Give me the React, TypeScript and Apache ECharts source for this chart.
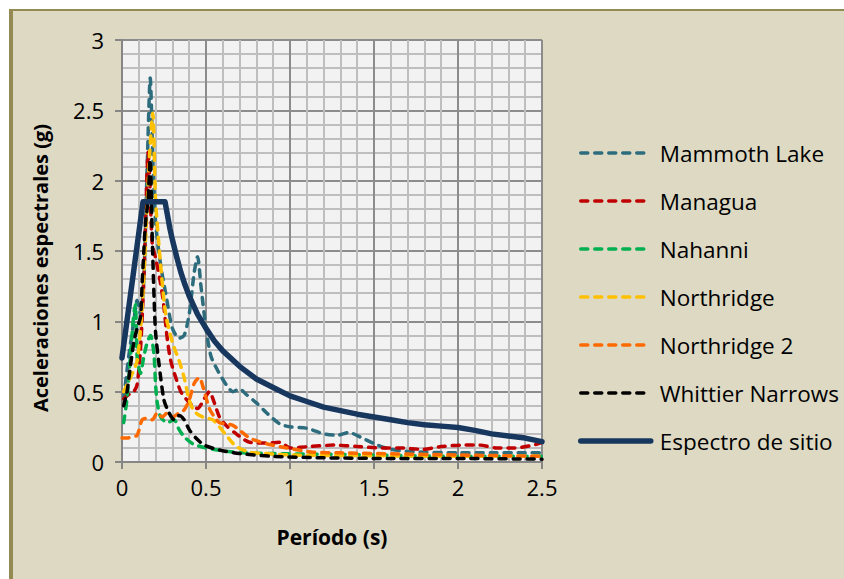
import React, { useEffect, useRef } from "react";
import * as echarts from "echarts";

// Period (s) / spectral acceleration (g)
const mammothT = [0.01, 0.04, 0.07, 0.09, 0.11, 0.13, 0.15, 0.168, 0.185, 0.2, 0.23, 0.26, 0.3, 0.34, 0.37, 0.4, 0.43, 0.45, 0.47, 0.5, 0.53, 0.57, 0.62, 0.66, 0.7, 0.74, 0.8, 0.86, 0.94, 1.0, 1.1, 1.2, 1.28, 1.35, 1.43, 1.52, 1.6, 1.7, 1.8, 2.0, 2.2, 2.4, 2.5];
const mammothA = [0.45, 0.75, 1.0, 1.15, 1.05, 1.3, 2.1, 2.73, 2.1, 1.7, 1.4, 1.2, 0.95, 0.88, 0.9, 1.05, 1.35, 1.46, 1.25, 0.95, 0.75, 0.65, 0.55, 0.5, 0.52, 0.48, 0.42, 0.35, 0.27, 0.25, 0.24, 0.2, 0.19, 0.21, 0.17, 0.12, 0.09, 0.075, 0.07, 0.065, 0.065, 0.065, 0.065];

const managuaT = [0.01, 0.04, 0.07, 0.09, 0.11, 0.13, 0.145, 0.155, 0.165, 0.18, 0.2, 0.225, 0.245, 0.27, 0.29, 0.32, 0.35, 0.38, 0.42, 0.45, 0.49, 0.52, 0.55, 0.58, 0.62, 0.68, 0.76, 0.86, 0.94, 1.0, 1.12, 1.26, 1.4, 1.54, 1.65, 1.79, 1.9, 2.03, 2.13, 2.23, 2.33, 2.45, 2.5];
const managuaA = [0.45, 0.48, 0.5, 0.55, 0.8, 1.3, 1.9, 2.2, 2.0, 1.55, 1.45, 1.3, 1.15, 0.87, 0.72, 0.6, 0.5, 0.45, 0.4, 0.38, 0.45, 0.5, 0.42, 0.32, 0.26, 0.2, 0.14, 0.135, 0.14, 0.1, 0.11, 0.12, 0.11, 0.1, 0.1, 0.09, 0.11, 0.12, 0.12, 0.1, 0.1, 0.12, 0.14];

const nahanniT = [0.01, 0.03, 0.05, 0.07, 0.08, 0.09, 0.11, 0.13, 0.15, 0.17, 0.19, 0.2, 0.21, 0.23, 0.27, 0.31, 0.34, 0.37, 0.42, 0.5, 0.6, 0.72, 0.9, 1.2, 1.5, 2.0, 2.5];
const nahanniA = [0.28, 0.45, 0.75, 1.05, 1.12, 0.75, 0.63, 0.75, 0.85, 0.9, 0.77, 0.55, 0.42, 0.32, 0.28, 0.3, 0.23, 0.18, 0.13, 0.1, 0.08, 0.065, 0.06, 0.055, 0.05, 0.04, 0.04];

const northridgeT = [0.01, 0.05, 0.09, 0.12, 0.145, 0.165, 0.183, 0.2, 0.23, 0.26, 0.3, 0.34, 0.37, 0.4, 0.43, 0.48, 0.54, 0.58, 0.62, 0.68, 0.76, 0.86, 1.0, 1.5, 2.0, 2.5];
const northridgeA = [0.5, 0.6, 0.72, 1.1, 1.7, 2.2, 2.48, 1.86, 1.4, 1.05, 0.85, 0.72, 0.6, 0.44, 0.36, 0.32, 0.3, 0.25, 0.19, 0.11, 0.07, 0.06, 0.05, 0.045, 0.04, 0.04];

const northridge2T = [0.0, 0.03, 0.06, 0.09, 0.12, 0.15, 0.18, 0.21, 0.24, 0.27, 0.3, 0.34, 0.37, 0.4, 0.43, 0.46, 0.49, 0.52, 0.55, 0.58, 0.66, 0.76, 0.86, 0.98, 1.14, 1.3, 2.0, 2.5];
const northridge2A = [0.17, 0.17, 0.18, 0.19, 0.3, 0.31, 0.3, 0.35, 0.32, 0.35, 0.32, 0.35, 0.37, 0.44, 0.56, 0.6, 0.5, 0.38, 0.32, 0.28, 0.26, 0.17, 0.13, 0.1, 0.07, 0.065, 0.05, 0.04];

const whittierT = [0.01, 0.03, 0.05, 0.07, 0.09, 0.11, 0.12, 0.13, 0.14, 0.155, 0.167, 0.18, 0.19, 0.2, 0.22, 0.25, 0.28, 0.31, 0.34, 0.37, 0.4, 0.44, 0.49, 0.58, 0.7, 0.9, 1.2, 1.6, 2.0, 2.5];
const whittierA = [0.4, 0.5, 0.68, 0.85, 0.95, 1.03, 1.27, 1.5, 1.7, 1.86, 2.15, 1.6, 1.2, 0.92, 0.7, 0.44, 0.35, 0.3, 0.33, 0.3, 0.23, 0.17, 0.12, 0.085, 0.06, 0.04, 0.03, 0.025, 0.025, 0.02];

const siteT = [0.0, 0.125, 0.256, 0.27, 0.285, 0.3, 0.325, 0.35, 0.375, 0.4, 0.45, 0.5, 0.55, 0.6, 0.7, 0.8, 0.9, 1.0, 1.1, 1.2, 1.3, 1.4, 1.5, 1.6, 1.7, 1.8, 1.9, 2.0, 2.1, 2.2, 2.3, 2.4, 2.5];
const siteA = [0.74, 1.85, 1.85, 1.76, 1.66, 1.58, 1.46, 1.35, 1.26, 1.18, 1.05, 0.95, 0.86, 0.79, 0.68, 0.59, 0.53, 0.47, 0.43, 0.39, 0.365, 0.34, 0.32, 0.3, 0.28, 0.265, 0.255, 0.245, 0.225, 0.2, 0.185, 0.17, 0.145];

const seriesNames = ["Mammoth Lake", "Managua", "Nahanni", "Northridge", "Northridge 2", "Whittier Narrows", "Espectro de sitio"];
const seriesColors = ["#2D6C7D", "#C00000", "#00B050", "#FFC000", "#FF6A00", "#000000", "#17375E"];
const xTicks = [0, 0.5, 1, 1.5, 2, 2.5];
const yTicks = [0, 0.5, 1, 1.5, 2, 2.5, 3];

const FONT = "'Open Sans', sans-serif";

export default function App() {
  const ref = useRef<HTMLDivElement>(null);

  useEffect(() => {
    if (!ref.current) return;
    const chart = echarts.init(ref.current, null, { renderer: "svg" });
    const dash = [7, 7];
    const mk = (i: number, T: number[], A: number[]) => ({
      name: seriesNames[i],
      type: "line",
      data: T.map((t, k) => [t, A[k]]),
      symbol: "none",
      showSymbol: false,
      smooth: 0.25,
      lineStyle: { color: seriesColors[i], width: 3.5, type: dash, cap: "round" },
      itemStyle: { color: seriesColors[i] },
    });
    const series: any[] = [
      mk(0, mammothT, mammothA),
      mk(1, managuaT, managuaA),
      mk(2, nahanniT, nahanniA),
      mk(3, northridgeT, northridgeA),
      mk(4, northridge2T, northridge2A),
      mk(5, whittierT, whittierA),
      {
        name: seriesNames[6],
        type: "line",
        data: siteT.map((t, k) => [t, siteA[k]]),
        symbol: "none",
        showSymbol: false,
        smooth: false,
        lineStyle: { color: seriesColors[6], width: 5.5, cap: "round", join: "round" },
        itemStyle: { color: seriesColors[6] },
      },
    ];
    const axisLabel = { fontFamily: FONT, fontSize: 22, color: "#000" };
    const legendData = seriesNames.map((name, i) => ({
      name,
      itemStyle: { opacity: 0 },
      lineStyle: {
        color: seriesColors[i],
        width: i === 6 ? 5.5 : 3.5,
        type: i === 6 ? "solid" : dash,
        cap: "round",
      },
    }));
    chart.setOption({
      animation: false,
      backgroundColor: "transparent",
      grid: {
        left: 122,
        top: 40,
        width: 420,
        height: 422,
        show: true,
        backgroundColor: "#F2F2F2",
        borderWidth: 0,
      },
      xAxis: {
        type: "value",
        min: xTicks[0],
        max: xTicks[xTicks.length - 1],
        interval: 0.5,
        axisLine: { show: true, onZero: false, lineStyle: { color: "#868686", width: 2 } },
        axisTick: { show: true, length: 7, lineStyle: { color: "#868686", width: 2 } },
        axisLabel: { ...axisLabel, margin: 14, formatter: (v: number) => String(v) },
        splitLine: { show: true, lineStyle: { color: "#8C8C8C", width: 2 } },
        minorTick: { show: false, splitNumber: 5 },
        minorSplitLine: { show: true, lineStyle: { color: "#BEBEBE", width: 2 } },
      },
      yAxis: {
        type: "value",
        min: yTicks[0],
        max: yTicks[yTicks.length - 1],
        interval: 0.5,
        axisLine: { show: true, onZero: false, lineStyle: { color: "#868686", width: 2 } },
        axisTick: { show: true, length: 7, lineStyle: { color: "#868686", width: 2 } },
        axisLabel: { ...axisLabel, margin: 18, formatter: (v: number) => String(v) },
        splitLine: { show: true, lineStyle: { color: "#8C8C8C", width: 2 } },
        minorTick: { show: false, splitNumber: 5 },
        minorSplitLine: { show: true, lineStyle: { color: "#BEBEBE", width: 2 } },
      },
      legend: {
        orient: "vertical",
        left: 578,
        top: 141,
        padding: 0,
        itemWidth: 70,
        itemHeight: 14,
        itemGap: 24,
        data: legendData,
        itemStyle: { opacity: 0 },
        textStyle: { fontFamily: FONT, fontSize: 22.5, color: "#000", lineHeight: 24, padding: [0, 0, 0, 4] },
      },
      graphic: [
        {
          type: "text",
          x: 40,
          y: 268,
          rotation: Math.PI / 2,
          style: {
            text: "Aceleraciones espectrales (g)",
            fontFamily: FONT,
            fontSize: 20,
            fontWeight: "bold",
            fill: "#000",
            align: "center",
            verticalAlign: "middle",
          },
        },
        {
          type: "text",
          x: 332,
          y: 537,
          style: {
            text: "Período (s)",
            fontFamily: FONT,
            fontSize: 21,
            fontWeight: "bold",
            fill: "#000",
            align: "center",
            verticalAlign: "middle",
          },
        },
      ],
      series,
    });
    return () => chart.dispose();
  }, []);

  return (
    <div style={{ position: "absolute", left: 0, top: 0, width: 844, height: 579, background: "#FFFFFF", overflow: "hidden" }}>
      <div
        style={{
          position: "absolute",
          left: 9,
          top: 9,
          width: 844,
          height: 579,
          background: "#DDD9C3",
          borderTop: "2px solid #948A54",
          borderLeft: "4px solid #948A54",
        }}
      />
      <div ref={ref} style={{ position: "absolute", left: 0, top: 0, width: 844, height: 579 }} />
    </div>
  );
}
